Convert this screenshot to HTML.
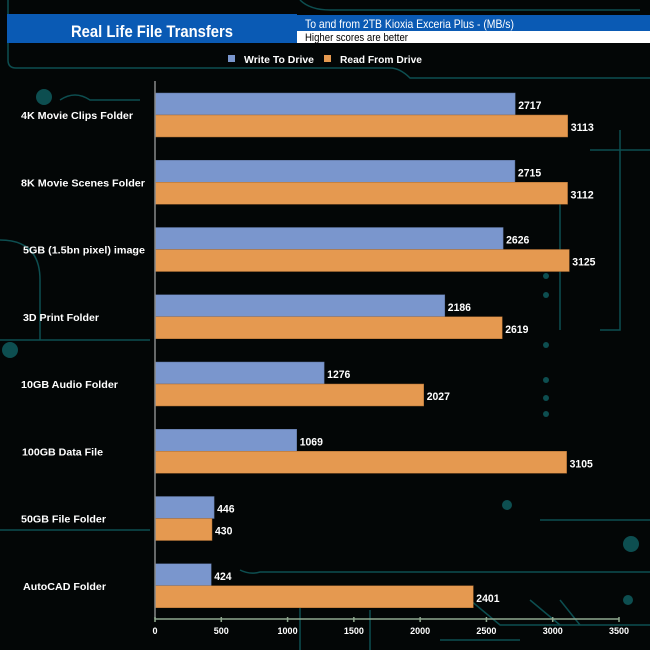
<!DOCTYPE html>
<html><head><meta charset="utf-8"><style>
body{margin:0;background:#000;}
svg{display:block;font-family:"Liberation Sans",Arial,sans-serif;}
</style></head><body>
<svg width="650" height="650" viewBox="0 0 650 650">
<rect width="650" height="650" fill="#030606"/>
<g stroke="#0d4e50" stroke-width="1.5" fill="none">
<path d="M8 0 V60 Q8 68 16 68 H390 Q400 68 410 78 H650"/>
<path d="M300 0 Q310 10 330 10 H640"/>
<path d="M60 100 Q75 90 90 100 H140"/>
<path d="M0 340 H150"/><path d="M0 240 Q40 240 40 280 V340"/>
<path d="M620 130 V330 H600"/><path d="M590 150 H650"/>
<path d="M560 200 V330"/><path d="M540 520 H650"/>
<path d="M240 570 Q250 575 260 572 H650"/>
<path d="M470 600 L500 625 H650"/><path d="M530 600 L560 625"/><path d="M560 600 L580 625"/>
<path d="M300 600 V650"/><path d="M370 610 V650"/><path d="M440 640 H520"/>
<path d="M0 530 H150"/>
</g>
<g fill="#0d4e50">
<circle cx="631" cy="544" r="8"/><circle cx="628" cy="600" r="5"/><circle cx="507" cy="505" r="5"/>
<circle cx="546" cy="276" r="3"/><circle cx="546" cy="295" r="3"/><circle cx="546" cy="345" r="3"/><circle cx="546" cy="380" r="3"/><circle cx="546" cy="398" r="3"/><circle cx="546" cy="414" r="3"/>
<circle cx="44" cy="97" r="8"/><circle cx="10" cy="350" r="8"/>
</g>
<rect x="7" y="14" width="290" height="29" fill="#0a5ab4"/>
<text x="71" y="37" textLength="162" lengthAdjust="spacingAndGlyphs" fill="#fff" font-size="17" font-weight="bold">Real Life File Transfers</text>
<rect x="297" y="15" width="353" height="16" fill="#0a5ab4"/>
<text x="305" y="28" fill="#fff" font-size="12" textLength="209" lengthAdjust="spacingAndGlyphs">To and from 2TB Kioxia Exceria Plus - (MB/s)</text>
<rect x="297" y="31" width="353" height="12" fill="#fff"/>
<text x="305" y="41" fill="#000" font-size="11" textLength="103" lengthAdjust="spacingAndGlyphs">Higher scores are better</text>
<g>
<rect x="228" y="55" width="7" height="7" fill="#7a96cd"/>
<text x="244" y="63" textLength="70" lengthAdjust="spacingAndGlyphs" fill="#fff" font-size="10.5" font-weight="bold">Write To  Drive</text>
<rect x="324" y="55" width="7" height="7" fill="#e59950"/>
<text x="340" y="63" textLength="82" lengthAdjust="spacingAndGlyphs" fill="#fff" font-size="10.5" font-weight="bold">Read From  Drive</text>
</g>
<g id="plot"></g>
</svg>
<script>
const categories=["4K Movie Clips Folder","8K Movie Scenes Folder","5GB (1.5bn pixel) image","3D Print Folder","10GB Audio Folder","100GB Data File","50GB File Folder","AutoCAD Folder"];
const writeVals=[2717,2715,2626,2186,1276,1069,446,424];
const readVals=[3113,3112,3125,2619,2027,3105,430,2401];
const ticks=[0,500,1000,1500,2000,2500,3000,3500];
const labelStart=[21,21,23,23,21,22,21,23];
const labelEnd=[133,145,145,99,118,103,106,106];
const NS="http://www.w3.org/2000/svg";
const g=document.getElementById('plot');
const X0=155,X1=619,Y0=81,Y1=619,MAX=3500;
const xs=v=>X0+(X1-X0)*v/MAX;
const band=(Y1-Y0)/categories.length;
function mk(t,a,p){const e=document.createElementNS(NS,t);for(const k in a)e.setAttribute(k,a[k]);(p||g).appendChild(e);return e;}
function numW(v){return String(v).length*5.8;}
categories.forEach((c,i)=>{
 const top=Y0+i*band+12;
 let r=mk('rect',{x:X0,y:top,width:xs(writeVals[i])-X0,height:22,fill:'#7a96cd',stroke:'#5a6f98','stroke-width':0.5});
 
 
 let r2=mk('rect',{x:X0,y:top+22,width:xs(readVals[i])-X0,height:22,fill:'#e59950',stroke:'#a86a30','stroke-width':0.5});
 
 
 let t1=mk('text',{x:xs(writeVals[i])+3,y:top+16,fill:'#fff','font-size':11,'font-weight':'bold',textLength:numW(writeVals[i]),lengthAdjust:'spacingAndGlyphs'});t1.textContent=writeVals[i];
 
 
 let t2=mk('text',{x:xs(readVals[i])+3,y:top+38,fill:'#fff','font-size':11,'font-weight':'bold',textLength:numW(readVals[i]),lengthAdjust:'spacingAndGlyphs'});t2.textContent=readVals[i];
 
 
 let l=mk('text',{x:labelStart[i],y:top+26,fill:'#fff','font-size':10.5,'font-weight':'bold',textLength:labelEnd[i]-labelStart[i],lengthAdjust:'spacingAndGlyphs'});l.textContent=c;
 
 
});
let ya=mk('line',{x1:X0,y1:Y0,x2:X0,y2:Y1,stroke:'#888','stroke-width':1.5});


let xa=mk('line',{x1:X0,y1:Y1,x2:X1,y2:Y1,stroke:'#8fa88f','stroke-width':1.5});


ticks.forEach(t=>{
 mk('line',{x1:xs(t),y1:Y1-2,x2:xs(t),y2:Y1+3,stroke:'#8fa88f','stroke-width':1.5});
 let tl=mk('text',{x:xs(t),y:Y1+15,fill:'#fff','font-size':9,'font-weight':'bold','text-anchor':'middle'});tl.textContent=t;
 
 
});
</script>
</body></html>
